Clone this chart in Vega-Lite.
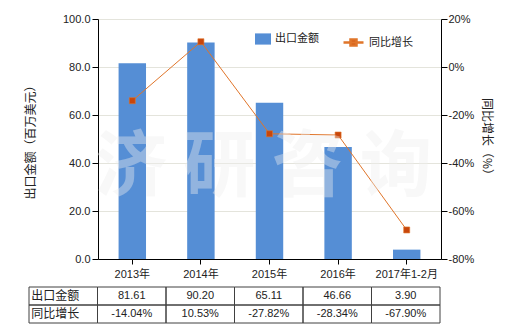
{
  "$schema": "https://vega.github.io/schema/vega-lite/v6.json",
  "padding": {"left": 24, "top": 13, "right": 5, "bottom": 5},
  "background": "white",
  "spacing": 7,
  "config": {
    "font": "Liberation Sans, Noto Sans CJK SC",
    "locale": {"number": {"decimal": ".", "thousands": ",", "grouping": [3], "currency": ["$", ""], "minus": "-"}},
    "view": {"stroke": null},
    "axis": {"labelFont": "Liberation Sans, Noto Sans CJK SC", "labelFontSize": 11, "labelColor": "#222", "titleFont": "Noto Sans CJK SC", "titleFontSize": 12, "titleFontWeight": "normal", "titleColor": "#222", "domainColor": "#000", "tickColor": "#000", "tickSize": 6},
    "legend": {"labelFont": "Noto Sans CJK SC", "labelFontSize": 11, "labelColor": "#222"}
  },
  "datasets": {
    "trade": [
      {"year": "2013年", "amount": 81.61, "growth": -0.1404},
      {"year": "2014年", "amount": 90.20, "growth": 0.1053},
      {"year": "2015年", "amount": 65.11, "growth": -0.2782},
      {"year": "2016年", "amount": 46.66, "growth": -0.2834},
      {"year": "2017年1-2月", "amount": 3.90, "growth": -0.6790}
    ],
    "rows": [
      {"key": "amount", "label": "出口金额"},
      {"key": "growth", "label": "同比增长"}
    ],
    "mark": [{"t": "济 研 咨 询"}]
  },
  "vconcat": [
    {
      "width": 343,
      "height": 240,
      "layer": [
        {
          "data": {"name": "trade"},
          "mark": {"type": "bar"},
          "encoding": {
            "x": {"field": "year", "type": "nominal", "sort": null, "scale": {"paddingInner": 0.6, "paddingOuter": 0.3}, "axis": {"title": null, "labelAngle": 0, "labelPadding": 4, "tickSize": 5}},
            "y": {"field": "amount", "type": "quantitative", "scale": {"domain": [0, 100]}, "axis": {"title": "出口金额（百万美元）", "values": [0, 20, 40, 60, 80, 100], "format": ".1f", "grid": true, "gridColor": "#e4e4dc", "labelPadding": 2, "titlePadding": 25}},
            "color": {"datum": "出口金额", "scale": {"range": ["#558ed5"]}, "legend": {"orient": "none", "legendX": 157, "legendY": 12, "title": null, "symbolType": "M-1,-0.7H1V0.7H-1Z", "symbolSize": 256, "symbolStrokeWidth": 0}}
          }
        },
        {
          "data": {"name": "trade"},
          "mark": {"type": "line", "strokeWidth": 1, "point": {"shape": "square", "filled": true, "fill": "#c8460b", "size": 36, "stroke": "#f0a060", "strokeWidth": 0.6}},
          "encoding": {
            "x": {"field": "year", "type": "nominal", "sort": null},
            "y": {"field": "growth", "type": "quantitative", "scale": {"domain": [-0.8, 0.2]}, "axis": {"orient": "right", "title": "同比增长（%）", "titleAngle": 90, "values": [-0.8, -0.6, -0.4, -0.2, 0, 0.2], "format": ".0%", "grid": false, "labelPadding": 1, "titlePadding": 6}},
            "stroke": {"datum": "同比增长", "scale": {"range": ["#e0752a"]}, "legend": {"orient": "none", "legendX": 244, "legendY": 12, "title": null, "symbolType": "M-1,0H1M-0.3,-0.3H0.3V0.3H-0.3Z", "symbolSize": 400, "symbolStrokeWidth": 2.5, "symbolFillColor": "#c8460b", "symbolStrokeColor": "#c0501a"}}
          }
        },
        {
          "data": {"name": "mark"},
          "mark": {"type": "text", "dx": -6, "align": "center", "baseline": "middle", "font": "Noto Sans CJK SC", "fontSize": 72, "fontWeight": "bold", "fill": "#eeeeee", "opacity": 0.4},
          "encoding": {
            "x": {"datum": "2015年", "type": "nominal"},
            "y": {"datum": 38, "type": "quantitative", "scale": {"domain": [0, 100]}, "axis": null},
            "text": {"field": "t"}
          }
        }
      ],
      "resolve": {"scale": {"y": "independent", "color": "independent"}}
    },
    {
      "width": 343,
      "height": 36,
      "layer": [
        {
          "data": {"name": "trade"},
          "transform": [{"fold": ["amount", "growth"], "as": ["key", "value"]}],
          "mark": {"type": "rect", "filled": false, "stroke": "#404040", "strokeWidth": 1},
          "encoding": {
            "x": {"field": "year", "type": "nominal", "scale": {"domain": ["label", "2013年", "2014年", "2015年", "2016年", "2017年1-2月"], "range": [-69, 342], "paddingInner": 0, "paddingOuter": 0}, "axis": null},
            "y": {"field": "key", "type": "nominal", "scale": {"domain": ["amount", "growth"], "paddingInner": 0, "paddingOuter": 0}, "axis": null}
          }
        },
        {
          "data": {"name": "rows"},
          "mark": {"type": "rect", "filled": false, "stroke": "#404040", "strokeWidth": 1},
          "encoding": {
            "x": {"datum": "label", "type": "nominal"},
            "y": {"field": "key", "type": "nominal"}
          }
        },
        {
          "data": {"name": "rows"},
          "mark": {"type": "text", "align": "left", "dx": -32, "font": "Noto Sans CJK SC", "fontSize": 12, "fill": "#222"},
          "encoding": {
            "x": {"datum": "label", "type": "nominal"},
            "y": {"field": "key", "type": "nominal"},
            "text": {"field": "label"}
          }
        },
        {
          "data": {"name": "trade"},
          "mark": {"type": "text", "fontSize": 11, "fill": "#222"},
          "encoding": {
            "x": {"field": "year", "type": "nominal"},
            "y": {"datum": "amount", "type": "nominal"},
            "text": {"field": "amount", "format": ".2f"}
          }
        },
        {
          "data": {"name": "trade"},
          "mark": {"type": "text", "fontSize": 11, "fill": "#222"},
          "encoding": {
            "x": {"field": "year", "type": "nominal"},
            "y": {"datum": "growth", "type": "nominal"},
            "text": {"field": "growth", "format": ".2%"}
          }
        }
      ]
    }
  ],
  "resolve": {"scale": {"x": "independent", "y": "independent"}}
}
